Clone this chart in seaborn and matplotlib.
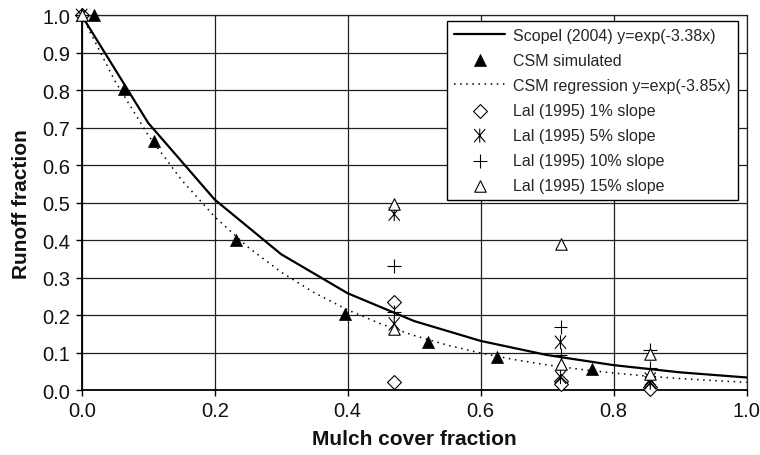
import numpy as np
import pandas as pd
import matplotlib
matplotlib.use("Agg")
import matplotlib.pyplot as plt
from matplotlib.path import Path
import seaborn as sns

# Exponential runoff models (coefficients as stated in the legend)
scopel_k = -3.38
csm_reg_k = -3.85
scopel_cover = [0.0, 0.1, 0.2, 0.3, 0.4, 0.5, 0.6, 0.7, 0.8, 0.9, 1.0]
csm_reg_cover = [round(v, 2) for v in np.arange(0.0, 1.0001, 0.05)]

# CSM simulated runoff fractions
csm_cover = [0.019, 0.064, 0.109, 0.232, 0.396, 0.521, 0.624, 0.767]
csm_runoff = [1.0, 0.803, 0.664, 0.402, 0.203, 0.128, 0.088, 0.057]

# Lal (1995) field observations
lal_cover = [0.0, 0.47, 0.47, 0.72, 0.72, 0.855, 0.855]
lal_1 = [1.0, 0.235, 0.023, 0.026, 0.018, 0.008, 0.003]
lal_5 = [1.0, 0.470, 0.177, 0.128, 0.035, 0.030, 0.020]
lal_10 = [1.0, 0.332, 0.210, 0.168, 0.095, 0.108, 0.060]
lal_15 = [1.0, 0.497, 0.163, 0.390, 0.070, 0.097, 0.043]

x_ticks = [0.0, 0.2, 0.4, 0.6, 0.8, 1.0]
y_ticks = [0.0, 0.1, 0.2, 0.3, 0.4, 0.5, 0.6, 0.7, 0.8, 0.9, 1.0]

sns.set_theme(style="white")
plt.rcParams["font.family"] = ["Liberation Sans", "DejaVu Sans"]

fig = plt.figure(figsize=(7.6, 4.56), dpi=100)
ax = fig.add_axes([0.1075, 0.142, 0.875, 0.822])

scopel_df = pd.DataFrame({"cover": scopel_cover,
                          "runoff": np.exp(scopel_k * np.array(scopel_cover))})
reg_df = pd.DataFrame({"cover": csm_reg_cover,
                       "runoff": np.exp(csm_reg_k * np.array(csm_reg_cover))})

sns.lineplot(data=scopel_df, x="cover", y="runoff", ax=ax, color="black",
             lw=1.6, sort=False, estimator=None,
             label="Scopel (2004) y=exp(-3.38x)", zorder=4)
sns.scatterplot(x=csm_cover, y=csm_runoff, ax=ax, marker="^", s=75,
                color="black", edgecolor="black", linewidth=0.5,
                label="CSM simulated", zorder=5, clip_on=False)
sns.lineplot(data=reg_df, x="cover", y="runoff", ax=ax, color="black",
             lw=1.1, linestyle=(0, (1, 3)), sort=False, estimator=None,
             label="CSM regression y=exp(-3.85x)", zorder=4)

# Line-only marker shapes
plus_path = Path([(0, -1), (0, 1), (-1, 0), (1, 0)],
                 [Path.MOVETO, Path.LINETO, Path.MOVETO, Path.LINETO])
aster_path = Path([(0, -1), (0, 1), (-0.8, -0.95), (0.8, 0.95),
                   (-0.8, 0.95), (0.8, -0.95)],
                  [Path.MOVETO, Path.LINETO, Path.MOVETO, Path.LINETO,
                   Path.MOVETO, Path.LINETO])

lal_series = [
    (lal_1, "D", 50, "Lal (1995) 1% slope"),
    (lal_5, aster_path, 100, "Lal (1995) 5% slope"),
    (lal_10, plus_path, 100, "Lal (1995) 10% slope"),
    (lal_15, "^", 68, "Lal (1995) 15% slope"),
]
for vals, mk, size, lab in lal_series:
    sns.scatterplot(x=lal_cover, y=vals, ax=ax, marker=mk, s=size,
                    facecolor="white" if isinstance(mk, str) else "none",
                    edgecolor="black", linewidth=0.8, label=lab,
                    zorder=6, clip_on=False)

ax.set_xlim(0, 1)
ax.set_ylim(0, 1)
ax.set_xticks(x_ticks)
ax.set_yticks(y_ticks)
ax.set_xticklabels([f"{v:.1f}" for v in x_ticks])
ax.set_yticklabels([f"{v:.1f}" for v in y_ticks])
ax.grid(True, color="#202020", lw=0.9)
ax.set_axisbelow(True)
for side in ["top", "right"]:
    ax.spines[side].set_visible(True)
    ax.spines[side].set_color("#202020")
    ax.spines[side].set_linewidth(0.9)
for side in ["left", "bottom"]:
    ax.spines[side].set_color("black")
    ax.spines[side].set_linewidth(1.3)
ax.tick_params(axis="both", which="major", direction="out", length=4,
               width=1, color="black", labelsize=14.5, pad=4,
               labelcolor="#111111", left=True, bottom=True)

ax.set_xlabel("Mulch cover fraction", fontsize=15, fontweight="bold",
              labelpad=6, color="#111111")
ax.set_ylabel("Runoff fraction", fontsize=15, fontweight="bold",
              labelpad=8, color="#111111")

order = ["Scopel (2004) y=exp(-3.38x)", "CSM simulated",
         "CSM regression y=exp(-3.85x)", "Lal (1995) 1% slope",
         "Lal (1995) 5% slope", "Lal (1995) 10% slope", "Lal (1995) 15% slope"]
handles, labels = ax.get_legend_handles_labels()
hmap = dict(zip(labels, handles))
leg = ax.legend([hmap[l] for l in order], order, loc="upper right",
                bbox_to_anchor=(0.9865, 0.9856), borderaxespad=0,
                fontsize=11.5, frameon=True, fancybox=False, framealpha=1,
                edgecolor="black", handlelength=3.2, handletextpad=0.5,
                labelspacing=0.63, borderpad=0.42)
leg.get_frame().set_linewidth(1.0)
leg.set_zorder(10)

fig.savefig("out.png", dpi=100, facecolor="white")
